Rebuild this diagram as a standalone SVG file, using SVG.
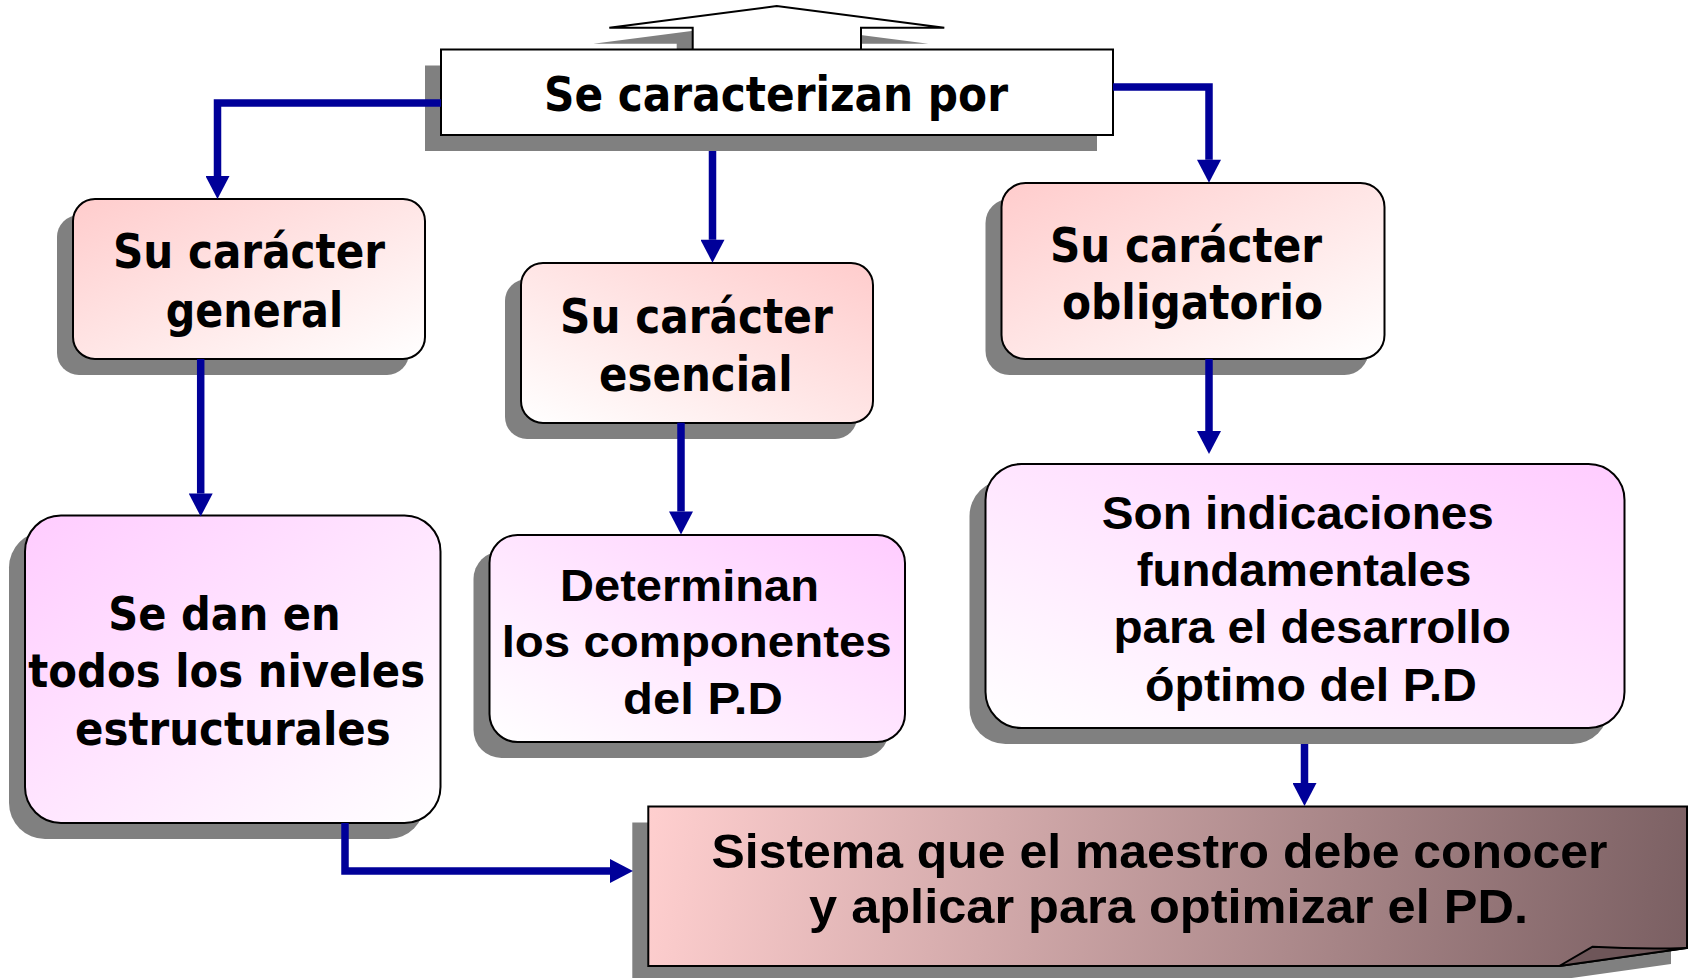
<svg xmlns="http://www.w3.org/2000/svg" width="1689" height="978" viewBox="0 0 1689 978">
<defs>
<style>
.sh{fill:#808080}
.bx{stroke:#000;stroke-width:2}
.t{font-family:"DejaVu Sans",Verdana,sans-serif;font-weight:bold;fill:#000}
.a{font-family:"Liberation Sans",Arial,sans-serif;font-weight:bold;fill:#000}
.c{fill:none;stroke:#000099;stroke-width:7.5;stroke-linejoin:miter;marker-end:url(#ah)}
</style>
<marker id="ah" markerUnits="userSpaceOnUse" markerWidth="24" markerHeight="24" viewBox="0 0 23 24" refX="0" refY="12" orient="auto">
<path d="M0,0 L23,12 L0,24 Z" fill="#000099"/>
</marker>
<linearGradient id="gPinkTL" x1="0" y1="0" x2="1" y2="1"><stop offset="0" stop-color="#ffcccc"/><stop offset="1" stop-color="#ffffff"/></linearGradient>
<linearGradient id="gPinkTR" x1="1" y1="0" x2="0" y2="1"><stop offset="0" stop-color="#ffcccc"/><stop offset="1" stop-color="#ffffff"/></linearGradient>
<linearGradient id="gVioTL" x1="0" y1="0" x2="1" y2="1"><stop offset="0" stop-color="#ffccff"/><stop offset="1" stop-color="#ffffff"/></linearGradient>
<linearGradient id="gVioTR" x1="1" y1="0" x2="0" y2="1"><stop offset="0" stop-color="#ffccff"/><stop offset="1" stop-color="#ffffff"/></linearGradient>
<linearGradient id="gBot" gradientUnits="userSpaceOnUse" x1="648" y1="806" x2="1687" y2="966"><stop offset="0" stop-color="#ffcfcf"/><stop offset="1" stop-color="#7a5f62"/></linearGradient>
</defs>
<rect width="1689" height="978" fill="#ffffff"/>

<g id="top">
<path class="sh" d="M676.7,76 V43.7 H593.3 L760.7,22 L928.3,43.7 H845 V76 Z"/>
<path d="M692.7,60 V27.7 H609.3 L776.7,6 L944.3,27.7 H861 V60 Z" fill="#ffffff" stroke="#000" stroke-width="2"/>
<rect class="sh" x="425" y="65.5" width="672" height="85.5"/>
<rect class="bx" x="441" y="49.5" width="672" height="85.5" fill="#ffffff"/>
<text class="t" text-anchor="middle" x="776" y="111" font-size="48" textLength="464" lengthAdjust="spacingAndGlyphs">Se caracterizan por</text>
</g>

<g id="general">
<rect class="sh" x="57" y="215" width="352" height="160" rx="22"/>
<rect class="bx" x="73" y="199" width="352" height="160" rx="22" fill="url(#gPinkTL)"/>
<text class="t" text-anchor="middle" x="249" y="268.3" font-size="48" textLength="272" lengthAdjust="spacingAndGlyphs">Su carácter</text>
<text class="t" text-anchor="middle" x="254.4" y="326.7" font-size="48" textLength="177.3" lengthAdjust="spacingAndGlyphs">general</text>
</g>

<g id="esencial">
<rect class="sh" x="505" y="279" width="352" height="160" rx="22"/>
<rect class="bx" x="521" y="263" width="352" height="160" rx="22" fill="url(#gPinkTR)"/>
<text class="t" text-anchor="middle" x="696.4" y="332.7" font-size="48" textLength="272.7" lengthAdjust="spacingAndGlyphs">Su carácter</text>
<text class="t" text-anchor="middle" x="695.9" y="390.7" font-size="48" textLength="193.7" lengthAdjust="spacingAndGlyphs">esencial</text>
</g>

<g id="obligatorio">
<rect class="sh" x="985.5" y="199" width="383" height="176" rx="24"/>
<rect class="bx" x="1001.5" y="183" width="383" height="176" rx="24" fill="url(#gPinkTL)"/>
<text class="t" text-anchor="middle" x="1186" y="261.5" font-size="48" textLength="272" lengthAdjust="spacingAndGlyphs">Su carácter</text>
<text class="t" text-anchor="middle" x="1192.5" y="318.7" font-size="48" textLength="261" lengthAdjust="spacingAndGlyphs">obligatorio</text>
</g>

<g id="niveles">
<rect class="sh" x="9" y="531.5" width="415.5" height="307.5" rx="36"/>
<rect class="bx" x="25" y="515.5" width="415.5" height="307.5" rx="36" fill="url(#gVioTL)"/>
<text class="t" text-anchor="middle" x="224.5" y="630" font-size="46" textLength="232.4" lengthAdjust="spacingAndGlyphs">Se dan en</text>
<text class="t" text-anchor="middle" x="226.7" y="687.3" font-size="46" textLength="396.7" lengthAdjust="spacingAndGlyphs">todos los niveles</text>
<text class="t" text-anchor="middle" x="232.9" y="745" font-size="46" textLength="315.7" lengthAdjust="spacingAndGlyphs">estructurales</text>
</g>

<g id="determinan">
<rect class="sh" x="473.5" y="551" width="415.5" height="207" rx="28"/>
<rect class="bx" x="489.5" y="535" width="415.5" height="207" rx="28" fill="url(#gVioTR)"/>
<text class="a" text-anchor="middle" x="689.5" y="600.7" font-size="45" textLength="259" lengthAdjust="spacingAndGlyphs">Determinan</text>
<text class="a" text-anchor="middle" x="696.7" y="657.3" font-size="45" textLength="390" lengthAdjust="spacingAndGlyphs">los componentes</text>
<text class="a" text-anchor="middle" x="702.9" y="714" font-size="45" textLength="159.7" lengthAdjust="spacingAndGlyphs">del P.D</text>
</g>

<g id="indicaciones">
<rect class="sh" x="969.5" y="480" width="639" height="264" rx="36"/>
<rect class="bx" x="985.5" y="464" width="639" height="264" rx="36" fill="url(#gVioTR)"/>
<text class="a" text-anchor="middle" x="1297.8" y="528.5" font-size="46" textLength="392" lengthAdjust="spacingAndGlyphs">Son indicaciones</text>
<text class="a" text-anchor="middle" x="1304" y="585.8" font-size="46" textLength="334.7" lengthAdjust="spacingAndGlyphs">fundamentales</text>
<text class="a" text-anchor="middle" x="1312.2" y="642.5" font-size="46" textLength="397.6" lengthAdjust="spacingAndGlyphs">para el desarrollo</text>
<text class="a" text-anchor="middle" x="1311" y="700.5" font-size="46" textLength="332" lengthAdjust="spacingAndGlyphs">óptimo del P.D</text>
</g>

<g id="sistema">
<path class="sh" d="M632.3,822.5 H1671 V964 L1543.3,982 H632.3 Z"/>
<path class="bx" d="M648.3,806.5 H1687 V948 L1559.3,966 H648.3 Z" fill="url(#gBot)"/>
<path d="M1559.3,966 L1592.7,946.7 Q1640,949.5 1687,948 Z" fill="#6e5659" stroke="#000" stroke-width="2" stroke-linejoin="round"/>
<text class="a" text-anchor="middle" x="1159.5" y="867.6" font-size="49" textLength="896" lengthAdjust="spacingAndGlyphs">Sistema que el maestro debe conocer</text>
<text class="a" text-anchor="middle" x="1168.5" y="923.4" font-size="49" textLength="719" lengthAdjust="spacingAndGlyphs">y aplicar para optimizar el PD.</text>
</g>

<g id="connectors">
<path class="c" d="M441,103 H217.5 V176"/>
<path class="c" d="M712.5,151 V239.7"/>
<path class="c" d="M1113,87 H1209 V159.7"/>
<path class="c" d="M200.7,359 V493.5"/>
<path class="c" d="M681,422.7 V511.5"/>
<path class="c" d="M1209,359 V431"/>
<path class="c" d="M1304.5,744 V783"/>
<path class="c" d="M345,823 V871 H610"/>
</g>
</svg>
